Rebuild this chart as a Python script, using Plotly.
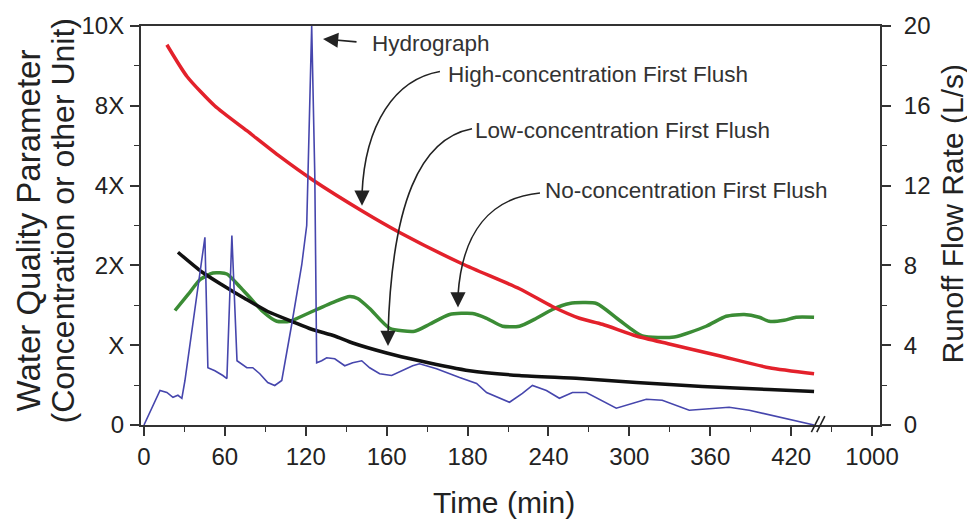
import plotly.graph_objects as go

# ---------------- data (x = position on the drawn time scale, y = 0-20 drawn scale) ----------
x_tick_pos = [0, 60, 120, 180, 240, 300, 360, 420, 480, 540]
x_tick_text = ["0", "60", "120", "160", "180", "240", "300", "360", "420", "1000"]
left_tick_vals = [0, 4, 8, 12, 16, 20]
left_tick_text = ["0", "X", "2X", "4X", "8X", "10X"]
right_tick_vals = [0, 4, 8, 12, 16, 20]

hydro_x = [0, 11.9, 17.0, 21.5, 25.2, 28.1, 30.4, 39.3, 45.2, 47.4, 52.6, 58.5, 61.5, 65.2,
           69.0, 76.3, 80.7, 85.9, 91.8, 97.0, 102.2, 109.6, 117.0, 120.7, 123.0, 124.4,
           126.7, 128.1, 131.8, 135.5, 141.5, 148.9, 154.8, 161.5, 167.4, 174.8, 183.7,
           191.1, 199.3, 204.4, 217.0, 234.1, 246.7, 254.1, 271.1, 280.7, 288.1, 298.5,
           308.1, 317.8, 328.1, 350.3, 372.6, 384.4, 404.4, 434.0, 448.9, 497.0]
hydro_y = [0, 1.73, 1.63, 1.39, 1.49, 1.34, 2.23, 6.68, 9.41, 2.87, 2.72, 2.48, 2.33, 9.50,
           3.22, 2.87, 2.87, 2.57, 2.13, 1.98, 2.23, 5.05, 8.02, 10.0, 15.9, 20.0,
           12.5, 3.12, 3.22, 3.37, 3.32, 2.97, 3.12, 3.22, 2.87, 2.57, 2.48,
           2.72, 2.97, 3.07, 2.82, 2.38, 2.08, 1.63, 1.14, 1.58, 1.98, 1.73,
           1.34, 1.63, 1.63, 0.84, 1.29, 1.24, 0.74, 0.89, 0.74, 0.0]

high_x = [17.0, 31.9, 52.6, 76.3, 100.7, 125.2, 161.5, 189.6, 236.3, 278.5, 302.9, 323.0,
          340.0, 365.2, 389.6, 426.7, 463.7, 497.0]
high_y = [19.06, 17.47, 15.99, 14.75, 13.46, 12.28, 10.74, 9.65, 8.07, 6.83, 5.94, 5.35,
          5.05, 4.46, 4.06, 3.47, 2.87, 2.57]

low_x = [25.2, 43.0, 57.8, 74.8, 91.8, 109.6, 124.4, 141.5, 154.8, 180.0, 204.4, 241.5,
         278.5, 323.0, 365.2, 414.1, 463.7, 497.0]
low_y = [8.66, 7.67, 7.03, 6.34, 5.69, 5.20, 4.80, 4.46, 4.11, 3.61, 3.22, 2.72,
         2.48, 2.33, 2.13, 1.93, 1.78, 1.68]

no_x = [23.0, 32.6, 41.5, 51.1, 61.5, 71.1, 78.5, 88.1, 98.5, 108.1, 121.5, 141.5, 152.6,
        158.5, 167.4, 182.2, 200.7, 211.8, 226.7, 243.7, 254.1, 265.9, 278.5, 291.1, 302.9,
        315.6, 335.6, 352.6, 369.6, 393.3, 417.0, 431.8, 445.2, 456.3, 463.7, 474.8, 483.7, 497.0]
no_y = [5.74, 6.53, 7.28, 7.62, 7.57, 6.93, 6.39, 5.69, 5.20, 5.20, 5.59, 6.19, 6.44,
        6.34, 5.84, 4.85, 4.70, 5.05, 5.54, 5.59, 5.35, 4.95, 4.95, 5.35, 5.79,
        6.09, 6.09, 5.25, 4.46, 4.41, 4.95, 5.45, 5.54, 5.40, 5.20, 5.25, 5.40, 5.40]

FONT = "Liberation Sans, Arial, sans-serif"
AX = "#333333"

fig = go.Figure()
fig.add_trace(go.Scatter(x=hydro_x, y=hydro_y, mode="lines", yaxis="y2",
                         line=dict(color="#4646ad", width=1.6), hoverinfo="skip"))
fig.add_trace(go.Scatter(x=no_x, y=no_y, mode="lines",
                         line=dict(color="#3b8c35", width=3.5, shape="spline", smoothing=0.6)))
fig.add_trace(go.Scatter(x=low_x, y=low_y, mode="lines",
                         line=dict(color="#111111", width=3.5, shape="spline", smoothing=0.6)))
fig.add_trace(go.Scatter(x=high_x, y=high_y, mode="lines",
                         line=dict(color="#e3212b", width=3.5, shape="spline", smoothing=0.6)))

tickfont = dict(family=FONT, size=24, color="#222222")

fig.update_layout(
    width=967, height=520,
    margin=dict(l=141, r=87, t=21, b=95),
    paper_bgcolor="white", plot_bgcolor="white",
    showlegend=False,
    xaxis=dict(range=[-2.2, 545.9], tickmode="array", tickvals=x_tick_pos, ticktext=x_tick_text,
               ticks="outside", ticklen=9, tickwidth=1.5, tickcolor=AX,
               showline=True, linewidth=2, linecolor=AX, mirror=True,
               showgrid=False, zeroline=False, tickfont=tickfont, ticklabelstandoff=0,
               minor=dict(tickmode="linear", tick0=30, dtick=60, ticks="outside",
                          ticklen=5, tickwidth=1.2, tickcolor=AX)),
    yaxis=dict(range=[0, 20], tickmode="array", tickvals=left_tick_vals, ticktext=left_tick_text,
               ticks="outside", ticklen=9, tickwidth=1.5, tickcolor=AX,
               showline=True, linewidth=2, linecolor=AX,
               showgrid=False, zeroline=False, tickfont=tickfont, ticklabelstandoff=1,
               minor=dict(tickmode="linear", tick0=2, dtick=4, ticks="outside",
                          ticklen=5, tickwidth=1.2, tickcolor=AX)),
    yaxis2=dict(range=[0, 20], overlaying="y", side="right", tickmode="array",
                tickvals=right_tick_vals,
                ticks="outside", ticklen=9, tickwidth=1.5, tickcolor=AX,
                showline=True, linewidth=2, linecolor=AX,
                showgrid=False, zeroline=False, tickfont=tickfont, ticklabelstandoff=8,
                minor=dict(tickmode="linear", tick0=2, dtick=4, ticks="outside",
                           ticklen=5, tickwidth=1.2, tickcolor=AX)),
)

# axis titles
title_font = dict(family=FONT, color="#222222")
fig.add_annotation(text="Water Quality Parameter", textangle=-90, xref="paper", yref="paper",
                   x=0, y=0.5, xshift=-113, yshift=-5, showarrow=False,
                   xanchor="center", yanchor="middle", font=dict(size=33, **title_font))
fig.add_annotation(text="(Concentration or other Unit)", textangle=-90, xref="paper", yref="paper",
                   x=0, y=0.5, xshift=-79, yshift=5, showarrow=False,
                   xanchor="center", yanchor="middle", font=dict(size=32, **title_font))
fig.add_annotation(text="Runoff Flow Rate (L/s)", textangle=-90, xref="paper", yref="paper",
                   x=1, y=0.5, xshift=72, yshift=12, showarrow=False,
                   xanchor="center", yanchor="middle", font=dict(size=30, **title_font))
fig.add_annotation(text="Time (min)", xref="paper", yref="paper",
                   x=0.5, y=0, xshift=-7, yshift=-77, showarrow=False,
                   xanchor="center", yanchor="middle", font=dict(size=30, **title_font))

# callout labels
lab_font = dict(family=FONT, size=22.5, color="#333333")
labels = [("Hydrograph", 167.5, 19.1),
          ("High-concentration First Flush", 224.0, 17.57),
          ("Low-concentration First Flush", 244.0, 14.75),
          ("No-concentration First Flush", 296.0, 11.73)]
for t, lx, ly in labels:
    fig.add_annotation(text=t, x=lx, y=ly, xref="x", yref="y", showarrow=False,
                       xanchor="left", yanchor="middle", font=lab_font)

# hydrograph straight arrow
fig.add_annotation(text="", x=132.8, y=19.35, xref="x", yref="y", ax=35, ay=3,
                   showarrow=True, arrowhead=2, arrowsize=1.9, arrowwidth=1.6,
                   arrowcolor="#222222", standoff=0)

# curved arrows (cubic paths) + arrowheads
curves = [
    ((219.5, 17.72), (186.2, 17.33), (163.9, 15.10), (161.7, 11.58), (161.7, 10.99)),
    ((243.3, 14.85), (204.7, 14.36), (183.9, 11.14), (181.0, 4.55), (181.0, 3.96)),
    ((293.7, 11.63), (256.6, 11.39), (235.9, 9.65), (232.9, 6.49), (232.9, 5.89)),
]
for p0, p1, p2, p3, tip in curves:
    path = "M {} {} C {} {}, {} {}, {} {}".format(p0[0], p0[1], p1[0], p1[1], p2[0], p2[1], p3[0], p3[1])
    fig.add_shape(type="path", path=path, xref="x", yref="y",
                  line=dict(color="#222222", width=1.6), layer="above")
    fig.add_annotation(text="", x=tip[0], y=tip[1], xref="x", yref="y", ax=0, ay=-14,
                       showarrow=True, arrowhead=2, arrowsize=1.9, arrowwidth=1.6,
                       arrowcolor="#222222", standoff=0)

# axis break marks "//"
for bx0, bx1 in [(495.0, 501.0), (499.0, 505.0)]:
    fig.add_shape(type="line", xref="x", yref="paper", x0=bx0, x1=bx1, y0=-0.018, y1=0.022,
                  line=dict(color="#222222", width=1.6))

fig.write_html("out.html")
